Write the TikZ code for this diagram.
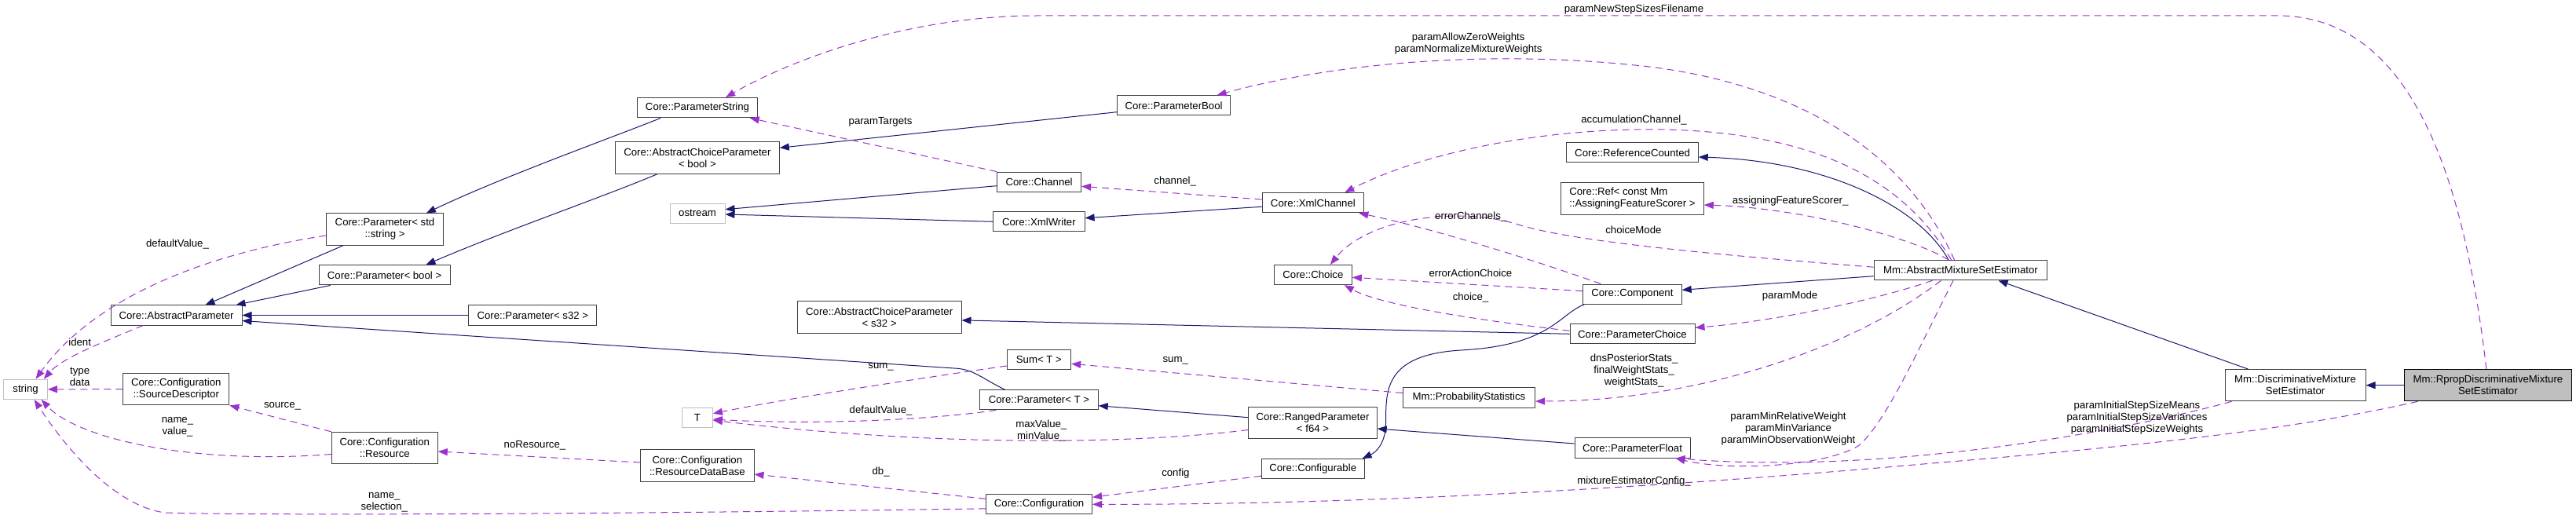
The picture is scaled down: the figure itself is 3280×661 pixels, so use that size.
\documentclass[tikz,border=0pt]{standalone}
\usepackage{fontspec}
\setmainfont{Liberation Sans}
\usetikzlibrary{arrows.meta,calc}
\definecolor{inhline}{HTML}{191970}
\definecolor{useline}{HTML}{9A32CD}
\definecolor{boxline}{HTML}{404040}
\definecolor{extline}{HTML}{BFBFBF}
\definecolor{focusfill}{HTML}{BFBFBF}

\begin{document}
\begin{tikzpicture}[
  x=1pt, y=-1pt,
  cls/.style={draw=boxline, line width=1pt, fill=white, inner sep=0pt, align=center,
    minimum height=25.3, font=\fontsize{13.2}{15}\selectfont},
  twoline/.style={minimum height=40.3},
  ext/.style={cls, draw=extline},
  focus/.style={cls, draw=black, fill=focusfill},
  inherit/.style={draw=inhline, line width=1pt, -{Triangle[length=12pt,width=9pt]}},
  usage/.style={draw=useline, line width=1pt, dash pattern=on 9pt off 6pt,
    -{Triangle[length=12pt,width=9pt]}},
  lbl/.style={inner sep=0pt, align=center, font=\fontsize{13.2}{15}\selectfont}
]
  \path[use as bounding box, fill=white] (0,0) rectangle (3280,661);

  \node[ext, minimum width=55.4] (str) at (32.6,495.8) {string};
  \node[cls, minimum width=167] (absparam) at (224.5,401.5) {Core::AbstractParameter};
  \node[cls, twoline, minimum width=135] (srcdesc) at (224.3,495.7) {Core::Configuration\\::SourceDescriptor};
  \node[cls, twoline, minimum width=148.7] (pstdstr) at (490,292) {Core::Parameter< std\\::string >};
  \node[cls, minimum width=166.8] (pbool) at (489.6,350.3) {Core::Parameter< bool >};
  \node[cls, twoline, minimum width=135] (resource) at (489.8,570.5) {Core::Configuration\\::Resource};
  \node[cls, minimum width=152.5] (pstring) at (888,137.2) {Core::ParameterString};
  \node[cls, twoline, minimum width=208.7] (acpbool) at (887.9,201) {Core::AbstractChoiceParameter\\< bool >};
  \node[ext, minimum width=70] (ostream) at (888,271.7) {ostream};
  \node[cls, minimum width=162.8] (ps32) at (678.3,401.5) {Core::Parameter< s32 >};
  \node[ext, minimum width=39] (tval) at (887.9,531.7) {T};
  \node[cls, twoline, minimum width=144.2] (resdb) at (887.9,593) {Core::Configuration\\::ResourceDataBase};
  \node[cls, twoline, minimum width=208.6] (acps32) at (1119.7,403.9) {Core::AbstractChoiceParameter\\< s32 >};
  \node[cls, minimum width=144.2] (parambool) at (1494.6,134.3) {Core::ParameterBool};
  \node[cls, minimum width=107] (channel) at (1323.1,231.7) {Core::Channel};
  \node[cls, minimum width=116.4] (xmlwriter) at (1322.9,282.3) {Core::XmlWriter};
  \node[cls, minimum width=129.7] (xmlchannel) at (1671.9,258.3) {Core::XmlChannel};
  \node[cls, minimum width=81.4] (sum) at (1322.9,458.3) {Sum< T >};
  \node[cls, minimum width=150.5] (ptmpl) at (1323,509.2) {Core::Parameter< T >};
  \node[cls, minimum width=135] (config) at (1323.1,642.3) {Core::Configuration};
  \node[cls, twoline, minimum width=163.4] (ranged) at (1671.5,538.5) {Core::RangedParameter\\< f64 >};
  \node[cls, minimum width=130.7] (configurable) at (1671.7,597.2) {Core::Configurable};
  \node[cls, minimum width=98.9] (choice) at (1671.9,350) {Core::Choice};
  \node[cls, minimum width=125.5] (component) at (2078.4,374.7) {Core::Component};
  \node[cls, minimum width=159] (paramchoice) at (2078.5,425.3) {Core::ParameterChoice};
  \node[cls, minimum width=168.3] (probstats) at (1870.4,506.5) {Mm::ProbabilityStatistics};
  \node[cls, minimum width=147] (paramfloat) at (2078.5,570.5) {Core::ParameterFloat};
  \node[cls, minimum width=167.3] (refcount) at (2078.6,194.3) {Core::ReferenceCounted};
  \node[cls, twoline, minimum width=181.7, align=left] (refafs) at (2078.4,253) {Core::Ref< const Mm\\::AssigningFeatureScorer >};
  \node[cls, minimum width=220.7] (amse) at (2496.5,344.2) {Mm::AbstractMixtureSetEstimator};
  \node[cls, twoline, minimum width=179] (dm) at (2922.5,490.7) {Mm::DiscriminativeMixture\\SetEstimator};
  \node[focus, twoline, minimum width=213.8] (rprop) at (3167.9,490.7) {Mm::RpropDiscriminativeMixture\\SetEstimator};

  \draw[inherit] ($(pstdstr.south west)+(22,0)$) -- ($(absparam.north west)+(121,0)$);
  \draw[inherit] ($(pbool.south west)+(15,0)$) -- ($(absparam.north east)+(-8,0)$);
  \draw[inherit] (ps32.west) -- (absparam.east);
  \draw[inherit] ($(ptmpl.north west)+(32,0)$) .. controls (1250,482) and (1240,470) .. (1215,469) -- ($(absparam.east)+(0,7)$);
  \draw[inherit] ($(pstring.south west)+(30,0)$) .. controls (780,175) and (640,225) .. ($(pstdstr.north east)+(-22,0)$);
  \draw[inherit] ($(acpbool.south west)+(54,0)$) .. controls (770,250) and (640,295) .. ($(pbool.north east)+(-31,0)$);
  \draw[inherit] ($(parambool.west)+(0,8.4)$) -- ($(acpbool.east)+(0,-12.7)$);
  \draw[inherit] (xmlwriter.west) -- ($(ostream.east)+(0,1.3)$);
  \draw[inherit] ($(channel.west)+(0,5)$) -- ($(ostream.east)+(0,-5)$);
  \draw[inherit] ($(xmlchannel.west)+(0,5)$) -- ($(xmlwriter.east)+(0,-4.6)$);
  \draw[inherit] ($(amse.north west)+(95.4,0)$) .. controls (2445,265) and (2330,205) .. ($(refcount.east)+(0,5.7)$);
  \draw[inherit] ($(amse.west)+(0,7.5)$) -- ($(component.east)+(0,-5.4)$);
  \draw[inherit] (paramchoice.west) -- ($(acps32.east)+(0,4)$);
  \draw[inherit] ($(component.south west)+(2,0)$) .. controls (1985,400) and (1975,440) .. (1860,446)
    .. controls (1760,452) and (1765,500) .. (1764.5,540) .. controls (1764,565) and (1752,576) .. ($(configurable.north east)+(-3,0)$);
  \draw[inherit] ($(ranged.west)+(0,-6.8)$) -- ($(ptmpl.east)+(0,7.5)$);
  \draw[inherit] ($(paramfloat.west)+(0,-5.5)$) -- ($(ranged.east)+(0,7.5)$);
  \draw[inherit] ($(dm.north west)+(30,0)$) -- ($(amse.south)+(48,0)$);
  \draw[inherit] (rprop.west) -- (dm.east);

  \draw[usage] ($(pstdstr.west)+(0,8)$) .. controls (250,325) and (115,385) .. ($(str.north)+(13,0)$);
  \draw[usage] ($(absparam.south west)+(41.5,0)$) .. controls (140,432) and (80,455) .. ($(str.north east)+(-5,0)$);
  \draw[usage] (srcdesc.west) -- (str.east);
  \draw[usage] ($(resource.west)+(0,8)$) .. controls (250,592) and (100,560) .. ($(str.south)+(20,0)$);
  \draw[usage] ($(config.west)+(0,5.5)$) .. controls (700,656) and (300,656) .. (210,653) .. controls (150,645) and (90,580) .. ($(str.south)+(11,0)$);
  \draw[usage] (resource.north west) -- (srcdesc.south east);
  \draw[usage] ($(resdb.west)+(0,-4)$) -- ($(resource.east)+(0,4.5)$);
  \draw[usage] ($(config.west)+(0,-7)$) -- ($(resdb.east)+(0,11)$);
  \draw[usage] ($(configurable.west)+(0,9)$) -- ($(config.east)+(0,-9)$);
  \draw[usage] ($(rprop.south west)+(18,0)$) .. controls (2950,540) and (2800,562) .. (2460,590) .. controls (2200,613) and (1800,643) .. (config.east);
  \draw[usage] ($(sum.west)+(0,7.7)$) .. controls (1150,485) and (1000,508) .. ($(tval.east)+(0,-5)$);
  \draw[usage] ($(ptmpl.south west)+(21,0)$) .. controls (1200,533) and (1050,542) .. ($(tval.east)+(0,2.3)$);
  \draw[usage] ($(ranged.west)+(0,9)$) .. controls (1450,565) and (1200,570) .. ($(tval.east)+(0,3.5)$);
  \draw[usage] (channel.north west) -- ($(pstring.south east)+(-10,0)$);
  \draw[usage] ($(xmlchannel.west)+(0,-4.3)$) -- ($(channel.east)+(0,5.6)$);
  \draw[usage] ($(amse.north west)+(99,0)$) .. controls (2430,240) and (2330,170) .. (2120,165) .. controls (1950,162) and (1800,200) .. ($(xmlchannel.north east)+(-25,0)$);
  \draw[usage] ($(rprop.north)+(-2,0)$) .. controls (3140,250) and (3080,20) .. (2900,20) -- (1320,20) .. controls (1150,20) and (1000,80) .. ($(pstring.north)+(36,0)$);
  \draw[usage] ($(amse.north)+(-8,0)$) .. controls (2430,200) and (2300,110) .. (2100,85) .. controls (1900,62) and (1700,80) .. ($(parambool.north)+(55,0)$);
  \draw[usage] ($(amse.north west)+(95.4,0)$) .. controls (2440,305) and (2300,265) .. ($(refafs.east)+(0,8)$);
  \draw[usage] ($(component.north)+(-40,0)$) .. controls (1950,330) and (1820,290) .. ($(xmlchannel.south east)+(-7,0)$);
  \draw[usage] ($(amse.west)+(0,-4)$) .. controls (2150,322) and (1990,305) .. (1930,285) .. controls (1850,262) and (1740,280) .. ($(choice.north)+(22,0)$);
  \draw[usage] ($(component.west)+(0,-4)$) -- ($(choice.east)+(0,3.3)$);
  \draw[usage] ($(paramchoice.west)+(0,-4)$) .. controls (1900,410) and (1760,390) .. ($(choice.south east)+(-10,0)$);
  \draw[usage] ($(amse.south)+(-36,0)$) .. controls (2380,385) and (2250,410) .. ($(paramchoice.east)+(0,-8)$);
  \draw[usage] ($(amse.south)+(-25,0)$) .. controls (2350,450) and (2150,511) .. ($(probstats.east)+(0,4.5)$);
  \draw[usage] ($(probstats.west)+(0,-6)$) -- ($(sum.east)+(0,5)$);
  \draw[usage] ($(amse.south)+(-9.5,0)$) .. controls (2440,450) and (2400,540) .. (2366,568) .. controls (2320,595) and (2200,600) .. ($(paramfloat.south east)+(-19,0)$);
  \draw[usage] ($(dm.south west)+(9,0)$) .. controls (2700,550) and (2400,605) .. ($(paramfloat.south east)+(-19,0)$);

  \node[lbl] (lbl-defval) at (226,310.7) {defaultValue\_};
  \node[lbl] (lbl-ident) at (101.7,435.7) {ident};
  \node[lbl] (lbl-typedata) at (101.7,480) {type\\data};
  \node[lbl] (lbl-namevalue) at (226,543.3) {name\_\\value\_};
  \node[lbl] (lbl-namesel) at (489.3,639.3) {name\_\\selection\_};
  \node[lbl] (lbl-source) at (359.5,517) {source\_};
  \node[lbl] (lbl-nores) at (681,567.7) {noResource\_};
  \node[lbl] (lbl-db) at (1121.6,600.7) {db\_};
  \node[lbl] (lbl-config) at (1496.9,602.7) {config};
  \node[lbl] (lbl-mixconf) at (2080.5,612.7) {mixtureEstimatorConfig\_};
  \node[lbl] (lbl-sumt) at (1121.6,467.3) {sum\_};
  \node[lbl] (lbl-defvalt) at (1121.6,522.7) {defaultValue\_};
  \node[lbl] (lbl-minmax) at (1325.8,548.2) {maxValue\_\\minValue\_};
  \node[lbl] (lbl-targets) at (1121,155) {paramTargets};
  \node[lbl] (lbl-channel) at (1496.2,230.7) {channel\_};
  \node[lbl] (lbl-accum) at (2080.5,152.7) {accumulationChannel\_};
  \node[lbl] (lbl-newstep) at (2080.5,11.7) {paramNewStepSizesFilename};
  \node[lbl] (lbl-boolparams) at (1869.7,55.8) {paramAllowZeroWeights\\paramNormalizeMixtureWeights};
  \node[lbl] (lbl-scorer) at (2279.6,255.7) {assigningFeatureScorer\_};
  \node[lbl] (lbl-errchan) at (1872.7,276) {errorChannels\_};
  \node[lbl] (lbl-choicemode) at (2079.9,292.3) {choiceMode};
  \node[lbl] (lbl-erraction) at (1872.4,347.3) {errorActionChoice};
  \node[lbl] (lbl-choice) at (1872.5,379) {choice\_};
  \node[lbl] (lbl-parammode) at (2279.1,376.7) {paramMode};
  \node[lbl] (lbl-stats) at (2080.6,471.7) {dnsPosteriorStats\_\\finalWeightStats\_\\weightStats\_};
  \node[lbl] (lbl-sumprob) at (1496.7,459.3) {sum\_};
  \node[lbl] (lbl-minparams) at (2277,546.5) {paramMinRelativeWeight\\paramMinVariance\\paramMinObservationWeight};
  \node[lbl] (lbl-stepparams) at (2721,531.7) {paramInitialStepSizeMeans\\paramInitialStepSizeVariances\\paramInitialStepSizeWeights};
\end{tikzpicture}
\end{document}
